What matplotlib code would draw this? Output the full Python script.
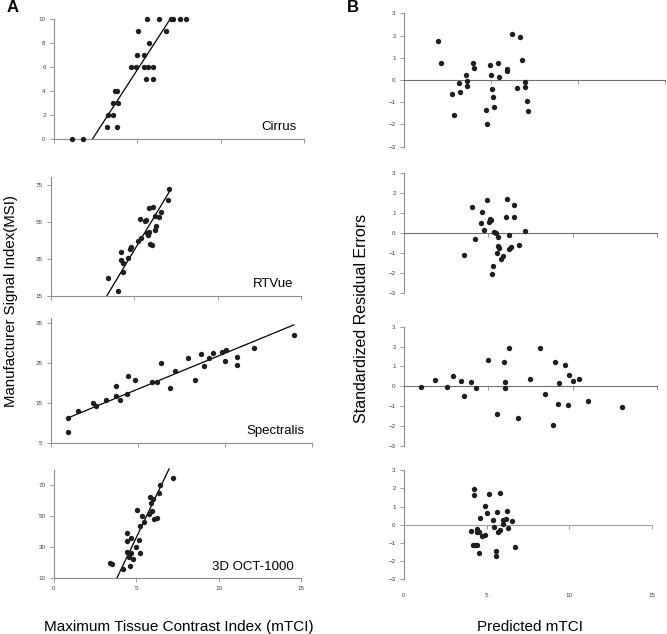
import numpy as np
import matplotlib
matplotlib.use("Agg")
import matplotlib.pyplot as plt

plt.rcParams["font.family"] = ["Liberation Sans", "DejaVu Sans"]

# --- Column A: MSI vs mTCI for each device ---
cirrus_x = [1.06, 1.76, 3.16, 3.8, 3.26, 3.56, 3.56, 3.86, 3.66, 3.76, 4.6, 4.92, 5.4, 5.66,
            5.92, 5.52, 5.96, 5.0, 5.4, 5.7, 5.06, 6.7, 5.6, 6.32, 7.0, 7.16, 7.56, 7.9]
cirrus_y = [0, 0, 1, 1, 2, 2, 3, 3, 4, 4, 6, 6, 6, 6, 6, 5, 5, 7, 7, 8, 9, 9, 10, 10, 10, 10, 10, 10]

rtvue_x = [3.4, 4.0, 4.18, 4.18, 4.3, 4.34, 4.64, 4.74, 4.8, 5.24, 5.38, 5.34, 5.64, 5.68,
           5.74, 5.84, 5.88, 5.9, 6.14, 5.94, 6.08, 6.24, 6.3, 6.26, 6.46, 6.62, 7.0, 7.1]
rtvue_y = [24.4, 17.7, 38.5, 34.2, 32.5, 27.7, 35.6, 40.3, 41.6, 44.6, 46.1, 56.6, 55.5, 56,
           48.8, 47.9, 49.3, 62.7, 62.9, 42.8, 42.5, 58.4, 52.8, 50.6, 57.8, 60.2, 66.7, 72.8]

spectralis_x = [1.0, 1.0, 1.53, 2.44, 2.57, 3.17, 3.72, 3.74, 3.97, 4.35, 4.45, 4.83, 5.79,
                6.08, 6.35, 6.85, 7.14, 7.87, 8.29, 8.61, 8.77, 9.09, 9.3, 9.82, 10.04,
                10.01, 10.68, 10.68, 11.68, 13.95]
spectralis_y = [11.4, 7.75, 13.1, 15.0, 14.2, 15.8, 19.2, 16.7, 15.7, 17.2, 21.75, 20.8, 20.4,
                20.2, 25.0, 18.75, 23.1, 26.25, 20.8, 27.25, 24.3, 26.2, 27.5, 27.7, 28.2,
                25.5, 26.5, 24.5, 28.75, 32.1]

oct_x = [3.43, 3.53, 4.2, 4.44, 4.44, 4.44, 4.56, 4.64, 4.7, 4.7, 4.8, 5.0, 5.05, 5.17,
         5.21, 5.25, 5.33, 5.47, 5.78, 5.86, 5.92, 5.96, 6.02, 6.1, 6.26, 6.35, 6.45, 7.24]
oct_y = [19.7, 18.8, 15.4, 39.1, 33.7, 26.8, 23.6, 17.6, 35.9, 25.8, 22.1, 30.1, 53.6, 34.4,
         25.8, 43.7, 50.1, 45.8, 51.0, 62.4, 58.1, 53.2, 60.7, 47.8, 48.4, 64.6, 70.0, 74.8]

# regression lines: slope, intercept, x start, x end
cirrus_fit = (2.155, -5.0, 2.32, 6.96)
rtvue_fit = (15.05, -35.5, 3.36, 7.1)
spectralis_fit = (1.79, 9.6, 1.0, 13.95)
oct_fit = (22.3, -75.4, 3.83, 6.99)

# --- Column B: standardized residuals vs predicted mTCI ---
res1_x = [1.97, 2.11, 2.74, 2.87, 3.14, 3.22, 3.56, 3.6, 3.64, 3.98, 4.02, 4.71, 4.79, 4.94,
          5.0, 5.08, 5.11, 5.17, 5.4, 5.48, 5.9, 5.9, 6.19, 6.48, 6.67, 6.8, 6.93, 6.95, 7.05, 7.11]
res1_y = [1.77, 0.75, -0.63, -1.57, -0.12, -0.53, 0.21, -0.06, -0.27, 0.77, 0.54, -1.35, -1.98,
          0.69, 0.21, -0.42, -0.78, -1.22, 0.75, 0.15, 0.48, 0.4, 2.08, -0.35, 1.95, 0.9,
          -0.09, -0.33, -0.95, -1.39]

res2_x = [3.58, 4.02, 4.22, 4.55, 4.65, 4.77, 4.93, 5.01, 5.09, 5.13, 5.31, 5.47, 5.5, 5.56,
          5.62, 5.6, 5.25, 5.21, 5.74, 5.86, 6.04, 6.1, 6.2, 6.24, 6.36, 6.5, 6.55, 6.79, 7.19]
res2_y = [-1.12, 1.29, -0.32, 0.49, 1.04, 0.13, 1.66, 0.57, 0.72, 0.64, 0.07, -0.02, -0.99,
          -0.65, -0.77, -0.18, -1.66, -2.06, -1.32, -1.14, 0.79, 1.69, -0.79, -0.1, -0.72,
          1.41, 0.82, -0.62, 0.12]

res3_x = [1.01, 1.86, 2.53, 2.92, 3.38, 3.54, 3.95, 4.27, 4.96, 5.53, 5.93, 5.97, 5.99, 6.25,
          6.78, 7.47, 8.08, 8.36, 8.85, 8.97, 9.13, 9.21, 9.57, 9.74, 9.8, 10.02, 10.38,
          10.91, 12.92]
res3_y = [-0.02, 0.32, -0.02, 0.5, 0.25, -0.49, 0.23, -0.1, 1.32, -1.39, 1.21, 0.2, -0.08,
          1.91, -1.59, 0.39, 1.91, -0.4, -1.93, 1.22, -0.9, 0.15, 1.06, -0.94, 0.59, 0.25,
          0.39, -0.72, -1.06]

res4_x = [4.05, 4.15, 4.23, 4.25, 4.29, 4.39, 4.39, 4.39, 4.55, 4.55, 4.57, 4.73, 4.89, 4.91,
          4.99, 5.13, 5.36, 5.44, 5.54, 5.56, 5.64, 5.68, 5.8, 5.8, 5.96, 6.0, 6.14, 6.2,
          6.3, 6.54, 6.74]
res4_y = [-0.34, -1.11, 1.64, 1.97, -1.11, -1.13, -0.23, -0.41, -0.41, -1.57, 0.38, -0.63,
          1.04, -0.54, 0.63, 1.68, 0.27, -0.12, -1.42, -1.73, 0.72, -0.39, 1.77, -0.27, 0.05,
          0.28, 0.32, 0.76, -0.16, 0.21, -1.22]

device_names = ["Cirrus", "RTVue", "Spectralis", "3D OCT-1000"]

W, H = 667, 634
fig = plt.figure(figsize=(W / 100, H / 100), dpi=100)

AXIS_COLOR = "#8c8c8c"
TICK_TEXT = "#404040"
DOT = "#1e1e1e"


def px_axes(x0, x1, ytop, ybot):
    # place an axes using pixel coordinates of the data area
    return fig.add_axes([x0 / W, 1 - ybot / H, (x1 - x0) / W, (ybot - ytop) / H])


def style(ax):
    for side in ["top", "right"]:
        ax.spines[side].set_visible(False)
    for side in ["left", "bottom"]:
        ax.spines[side].set_color(AXIS_COLOR)
        ax.spines[side].set_linewidth(0.8)
    ax.tick_params(length=3, width=0.6, color=AXIS_COLOR, labelsize=4.5,
                   labelcolor=TICK_TEXT, pad=3)


# --- column A ---
a_boxes = [(54, 304, 19.3, 138.7), (51, 301, 176.7, 295.7),
           (51, 312, 318.0, 443.3), (54, 301, 469.6, 577.7)]
a_ylims = [(0, 10), (15, 79.5), (5, 36.3), (10, 80)]
a_yticks = [[0, 2, 4, 6, 8, 10], [15, 35, 55, 75], [5, 15, 25, 35], [10, 30, 50, 70]]
a_x = [cirrus_x, rtvue_x, spectralis_x, oct_x]
a_y = [cirrus_y, rtvue_y, spectralis_y, oct_y]
a_fit = [cirrus_fit, rtvue_fit, spectralis_fit, oct_fit]

for i in range(4):
    ax = px_axes(*a_boxes[i])
    style(ax)
    ax.scatter(a_x[i], a_y[i], s=15, color=DOT, linewidths=0, clip_on=False, zorder=3)
    slope, icpt, xs, xe = a_fit[i]
    fx = np.array([xs, xe])
    ax.plot(fx, slope * fx + icpt, color="black", linewidth=0.9, clip_on=False)
    ax.set_xlim(0, 15)
    ax.set_ylim(*a_ylims[i])
    ax.set_xticks([0, 5, 10, 15])
    ax.set_yticks(a_yticks[i])
    if i < 3:
        ax.set_xticklabels([])
    ax.text(0.97, 0.1, device_names[i], transform=ax.transAxes, ha="right",
            va="center", fontsize=9.5)

# --- column B ---
b_boxes = [(404, 665, 13.3, 146.7), (404, 657, 173.3, 292.7),
           (404, 657, 326.7, 446.0), (404, 652, 470.3, 579.3)]
b_x = [res1_x, res2_x, res3_x, res4_x]
b_y = [res1_y, res2_y, res3_y, res4_y]

for i in range(4):
    ax = px_axes(*b_boxes[i])
    style(ax)
    ax.spines["bottom"].set_position(("data", 0))
    ax.spines["bottom"].set_color("#707070" if i < 3 else "#a0a0a0")
    ax.scatter(b_x[i], b_y[i], s=15, color=DOT, linewidths=0, clip_on=False, zorder=3)
    ax.set_xlim(0, 15)
    ax.set_ylim(-3, 3)
    ax.set_xticks([0, 5, 10, 15])
    ax.set_yticks([-3, -2, -1, 0, 1, 2, 3])
    ax.set_xticklabels([])
    if i == 3:
        sec = ax.secondary_xaxis("bottom")
        sec.spines["bottom"].set_visible(False)
        sec.set_xticks([0, 5, 10, 15])
        sec.tick_params(length=0, labelsize=4.5, labelcolor=TICK_TEXT, pad=10)

fig.text(13 / W, 1 - 8 / H, "A", fontsize=12, fontweight="bold", ha="center", va="center")
fig.text(353 / W, 1 - 8 / H, "B", fontsize=12, fontweight="bold", ha="center", va="center")
fig.text(11 / W, 1 - 301 / H, "Manufacturer Signal Index(MSI)", rotation=90,
         fontsize=10.8, ha="center", va="center")
fig.text(361 / W, 1 - 318 / H, "Standardized Residual Errors", rotation=90,
         fontsize=11.5, ha="center", va="center")
fig.text(179 / W, 1 - 627 / H, "Maximum Tissue Contrast Index (mTCI)",
         fontsize=11, ha="center", va="center")
fig.text(530 / W, 1 - 627 / H, "Predicted mTCI", fontsize=11, ha="center", va="center")

fig.savefig("out.png", dpi=100, facecolor="white")
